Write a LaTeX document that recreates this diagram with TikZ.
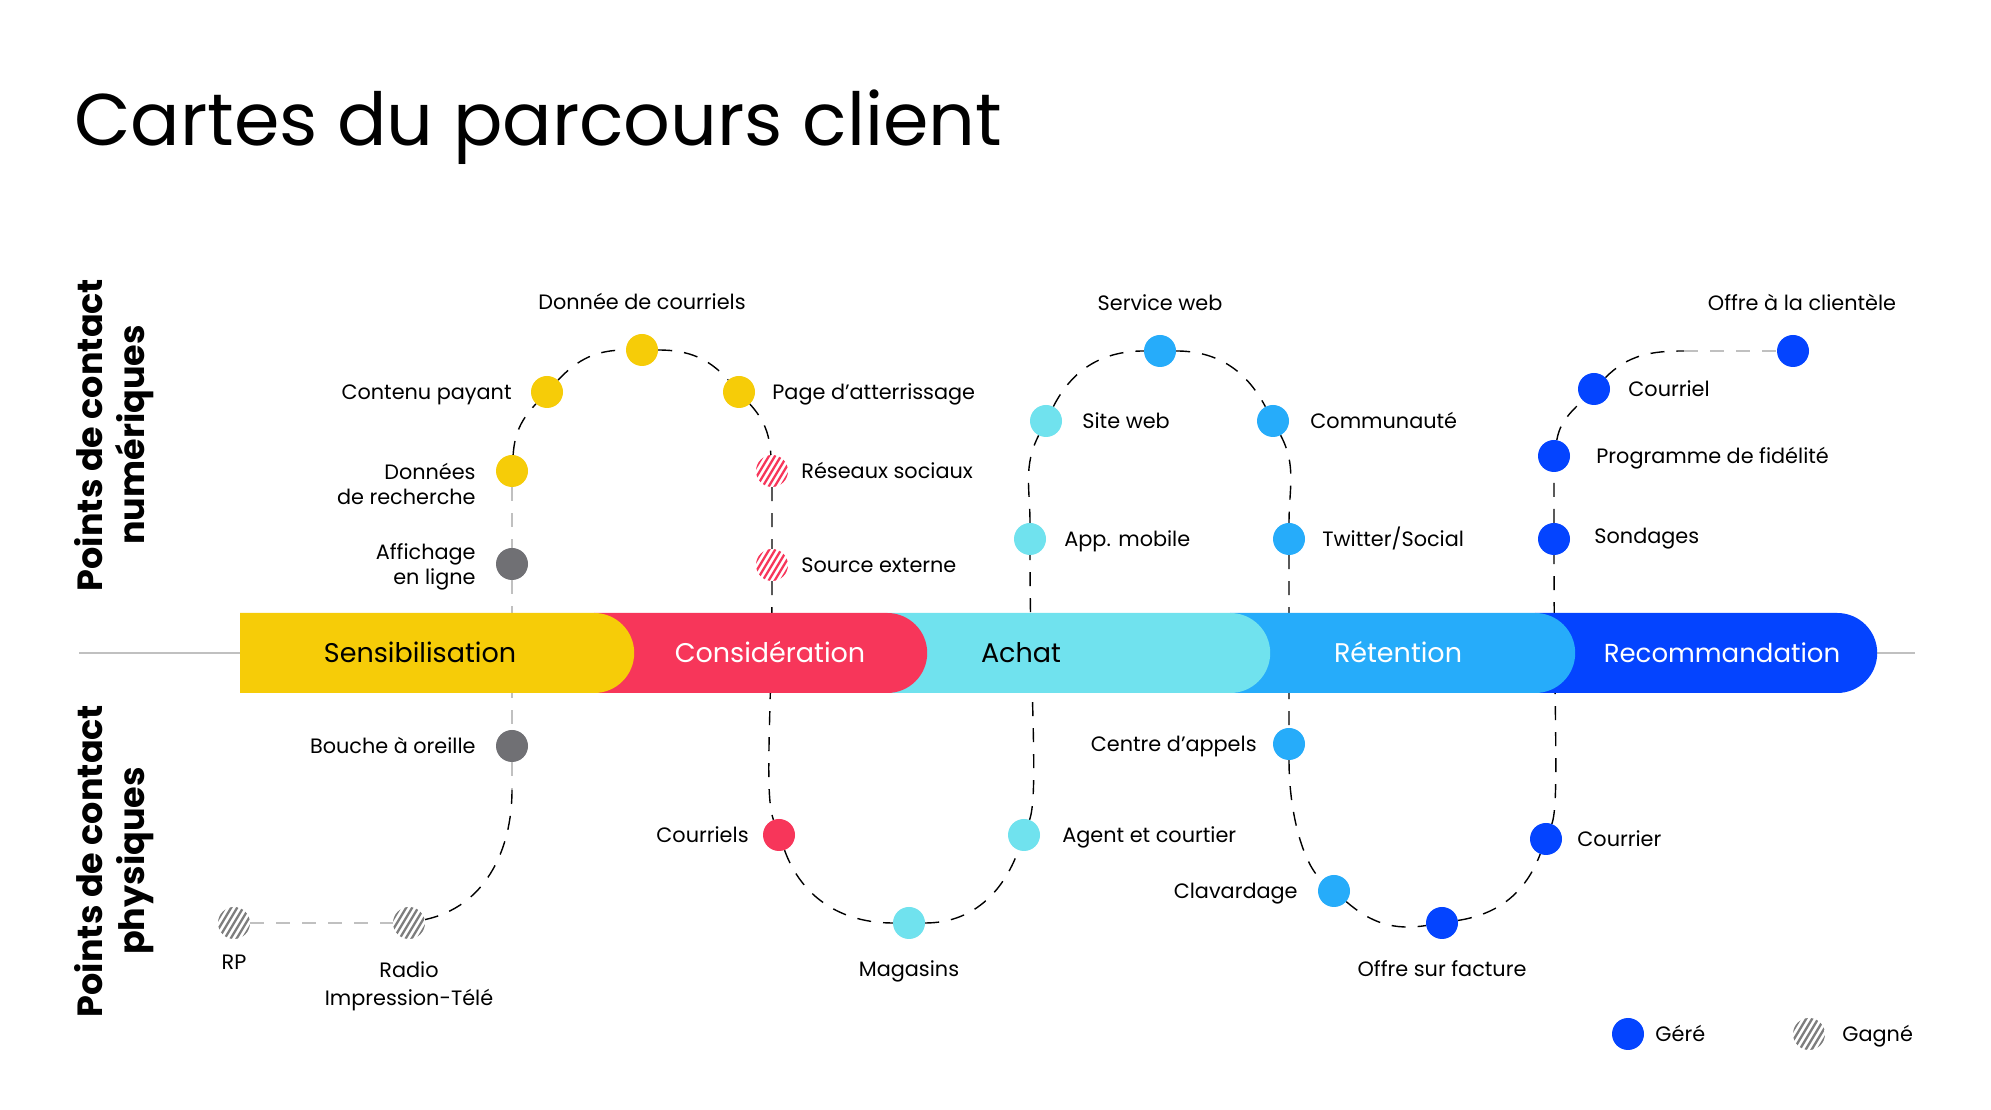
\documentclass[tikz,border=0pt]{standalone}
\usepackage{fontspec}
\setmainfont{Poppins}
\usepackage{xcolor}
\definecolor{jauneS}{RGB}{246,204,8}
\definecolor{rougeC}{RGB}{247,54,90}
\definecolor{cyanA}{RGB}{112,226,238}
\definecolor{bleuR}{RGB}{38,172,250}
\definecolor{bleuF}{RGB}{4,68,255}
\definecolor{grisP}{RGB}{112,112,116}
\definecolor{grisL}{RGB}{192,192,192}
\definecolor{grisH}{RGB}{125,125,125}
\usepackage{tikz}
\usetikzlibrary{positioning, shapes.misc, backgrounds}

\begin{document}
\begin{tikzpicture}[x=1pt, y=1pt,
  contact/.style={circle, fill=#1, minimum size=32pt, inner sep=0pt},
  hatch/.style={circle, fill=white, minimum size=32pt, inner sep=0pt,
    path picture={\foreach \k in {-4,...,4}
      \draw[#1, line width=2.3pt] ([xshift=\k*6pt-12pt, yshift=-20pt]path picture bounding box.center) -- ++(24pt,40pt);}},
  lbl/.style={font=\fontsize{20.8}{25}\selectfont, inner sep=0pt, text height=14.6pt, text depth=0pt},
  lbl2/.style={font=\fontsize{20.8}{25}\selectfont, inner sep=0pt, align=right},
  side/.style={font=\fontsize{35}{42}\selectfont\bfseries, inner sep=0pt, align=center, rotate=90},
  stage/.style={rounded rectangle, rounded rectangle left arc=none, minimum height=80pt,
                inner sep=0pt, anchor=west},
  stagetxt/.style={font=\fontsize{27}{30}\selectfont, inner sep=0pt, anchor=base},
  route/.style={dash pattern=on 14pt off 12pt, line width=1.4pt},
  fade/.style={route, draw=grisL}
]
  \useasboundingbox (0,0) rectangle (1991,1110);

  % titre et axes
  \node[font=\fontsize{73.2}{80}\selectfont, inner sep=0pt, anchor=base west] (titre) at (74,964) {Cartes du parcours client};
  \node[side] (t-num) at (114.5,675) {Points de contact\\numériques};
  \node[side] (t-phys) at (114.5,249) {Points de contact\\physiques};

  % etapes
  \draw[grisL, line width=2pt] (79,457) -- (1915,457);
  \node[stage, fill=bleuF, minimum width=342pt] (recom) at (1535,457) {};
  \node[stage, fill=bleuR, minimum width=345pt] (reten) at (1230,457) {};
  \node[stage, fill=cyanA, minimum width=383pt] (achat) at (887,457) {};
  \node[stage, fill=rougeC, minimum width=333pt] (cons) at (594,457) {};
  \node[stage, fill=jauneS, minimum width=394pt] (sens) at (240,457) {};
  \node[stagetxt] (t-sens) at (420,447) {Sensibilisation};
  \node[stagetxt, white] (t-cons) at (770,447) {Considération};
  \node[stagetxt] (t-achat) at (1021,447) {Achat};
  \node[stagetxt, white] (t-reten) at (1398,447) {Rétention};
  \node[stagetxt, white, font=\fontsize{26}{30}\selectfont] (t-recom) at (1722,447) {Recommandation};

  % points de contact
  \node[contact=jauneS] (drech) at (512,639) {};
  \node[contact=jauneS] (cpay) at (547,718) {};
  \node[contact=jauneS] (dcour) at (642,760) {};
  \node[contact=jauneS] (page) at (739,718) {};
  \node[contact=grisP] (affich) at (512,546) {};
  \node[contact=grisP] (bouche) at (512,364) {};
  \node[hatch=rougeC] (reseaux) at (772,639) {};
  \node[hatch=rougeC] (source) at (772,545) {};
  \node[hatch=grisH] (radio) at (409,187) {};
  \node[hatch=grisH] (rp) at (234,187) {};
  \node[contact=rougeC] (courriels) at (779,275) {};
  \node[contact=cyanA] (magasins) at (909,187) {};
  \node[contact=cyanA] (agent) at (1024,275) {};
  \node[contact=cyanA] (appmob) at (1030,571) {};
  \node[contact=cyanA] (siteweb) at (1046,689) {};
  \node[contact=bleuR] (servweb) at (1160,759) {};
  \node[contact=bleuR] (commu) at (1273,689) {};
  \node[contact=bleuR] (twitter) at (1289,571) {};
  \node[contact=bleuR] (centre) at (1289,366) {};
  \node[contact=bleuR] (clavar) at (1334,219) {};
  \node[contact=bleuF] (offrefac) at (1442,187) {};
  \node[contact=bleuF] (courrier) at (1546,271) {};
  \node[contact=bleuF] (sondages) at (1554,571) {};
  \node[contact=bleuF] (fidel) at (1554,654) {};
  \node[contact=bleuF] (courriel) at (1594,721) {};
  \node[contact=bleuF] (offrecli) at (1793,759) {};
  \coordinate (b0) at (512,320);
  \coordinate (e1) at (1684,759);

  % libelles
  \node[lbl, above=24pt of dcour] (t-dcour) {Donnée de courriels};
  \node[lbl, left=19pt of cpay] (t-cpay) {Contenu payant};
  \node[lbl, right=17pt of page] (t-page) {Page d’atterrissage};
  \node[lbl2, left=20pt of drech, yshift=-12.5pt] (t-drech) {Données\\de recherche};
  \node[lbl2, left=20pt of affich, yshift=-2.5pt] (t-affich) {Affichage\\en ligne};
  \node[lbl, right=13pt of reseaux] (t-reseaux) {Réseaux sociaux};
  \node[lbl, right=13pt of source] (t-source) {Source externe};
  \node[lbl, left=20pt of bouche] (t-bouche) {Bouche à oreille};
  \node[lbl, below=16pt of rp] (t-rp) {RP};
  \node[lbl2, align=center, font=\fontsize{20.8}{28}\selectfont, below=22pt of radio] (t-radio) {Radio\\Impression-Télé};
  \node[lbl, left=14pt of courriels] (t-courriels) {Courriels};
  \node[lbl, below=23pt of magasins] (t-magasins) {Magasins};
  \node[lbl, right=22pt of agent] (t-agent) {Agent et courtier};
  \node[lbl, right=18pt of appmob] (t-appmob) {App. mobile};
  \node[lbl, right=20pt of siteweb] (t-siteweb) {Site web};
  \node[lbl, above=24pt of servweb] (t-servweb) {Service web};
  \node[lbl, right=21pt of commu] (t-commu) {Communauté};
  \node[lbl, right=17pt of twitter] (t-twitter) {Twitter/Social};
  \node[lbl, left=16pt of centre] (t-centre) {Centre d’appels};
  \node[lbl, left=20pt of clavar] (t-clavar) {Clavardage};
  \node[lbl, below=23pt of offrefac] (t-offrefac) {Offre sur facture};
  \node[lbl, right=15pt of courrier] (t-courrier) {Courrier};
  \node[lbl, right=24pt of sondages, yshift=3pt] (t-sondages) {Sondages};
  \node[lbl, right=26pt of fidel] (t-fidel) {Programme de fidélité};
  \node[lbl, right=18pt of courriel] (t-courriel) {Courriel};
  \node[lbl, above=24pt of offrecli, xshift=9pt] (t-offrecli) {Offre à la clientèle};

  % legende
  \node[contact=bleuF] (gere) at (1628,76) {};
  \node[lbl, right=11pt of gere] (t-gere) {Géré};
  \node[hatch=grisH] (gagne) at (1809,76) {};
  \node[lbl, right=17pt of gagne] (t-gagne) {Gagné};

  % parcours
  \begin{scope}[on background layer]
    \fill[white] (0,0) rectangle (1991,1110);
    \draw[fade] (drech) -- (affich) -- (bouche) -- (b0);
    \draw[fade] (rp) -- (radio);
    \draw[route] (b0) to[out=-90, in=12] (radio);
    \draw[route] (drech) to[out=86, in=227] (cpay)
      to[out=47, in=180] (dcour)
      to[out=0, in=132] (page)
      to[out=-48, in=94] (reseaux)
      -- (source)
      to[out=-90, in=110, out looseness=1.4, in looseness=0.3] (courriels)
      to[out=-70, in=180] (magasins)
      to[out=0, in=250] (agent)
      to[out=70, in=-90, out looseness=0.26, in looseness=1.3] (appmob)
      to[out=90, in=243] (siteweb)
      to[out=63, in=180] (servweb)
      to[out=0, in=118] (commu)
      to[out=-62, in=90] (twitter)
      -- (centre)
      to[out=-90, in=139, out looseness=1.1, in looseness=0.5] (clavar)
      to[out=-41, in=189] (offrefac)
      to[out=9, in=249] (courrier)
      to[out=69, in=-90, out looseness=0.2, in looseness=1.5] (sondages)
      -- (fidel)
      to[out=80, in=225] (courriel)
      to[out=45, in=180] (e1);
    \draw[fade] (e1) -- (offrecli);
  \end{scope}
\end{tikzpicture}
\end{document}
